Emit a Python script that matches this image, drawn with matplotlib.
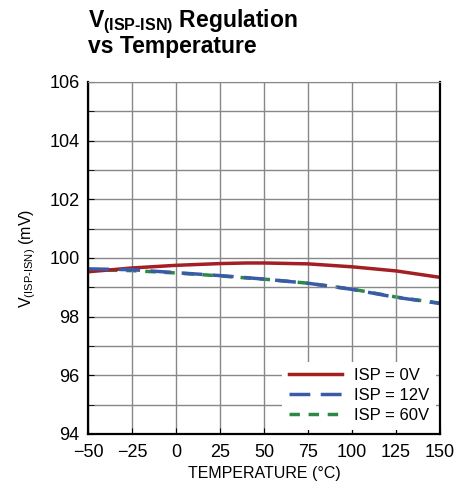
import matplotlib.pyplot as plt

temp = [-50, -25, 0, 25, 40, 50, 75, 100, 125, 150]
isp_0v = [99.53, 99.66, 99.75, 99.81, 99.83, 99.83, 99.8, 99.7, 99.56, 99.34]
isp_12v = [99.63, 99.6, 99.5, 99.4, 99.33, 99.28, 99.14, 98.93, 98.66, 98.45]
isp_60v = [99.6, 99.57, 99.49, 99.39, 99.32, 99.28, 99.14, 98.94, 98.67, 98.46]

xticks = [-50, -25, 0, 25, 50, 75, 100, 125, 150]
xticklabels = ['\u221250', '\u221225', '0', '25', '50', '75', '100', '125', '150']
yticks = [94, 96, 98, 100, 102, 104, 106]

plt.rcParams['font.family'] = ['Liberation Sans', 'DejaVu Sans']
plt.rcParams['mathtext.fontset'] = 'custom'
plt.rcParams['mathtext.rm'] = 'Liberation Sans'
plt.rcParams['mathtext.bf'] = 'Liberation Sans:bold'

fig = plt.figure(figsize=(4.67, 4.91), dpi=100)
ax = fig.add_axes([88/467, 1 - 434/491, 352/467, 352/491])

ax.plot(temp, isp_0v, color='#a31f24', lw=2.5, label='ISP = 0V')
ax.plot(temp, isp_12v, color='#3a5ba8', lw=2.5, dashes=(6, 3), label='ISP = 12V')
ax.plot(temp, isp_60v, color='#2a8a45', lw=2.5, dashes=(3, 2.5), label='ISP = 60V', zorder=1)

ax.set_xlim(-50, 150)
ax.set_ylim(94, 106)
ax.set_xticks(xticks)
ax.set_xticklabels(xticklabels)
ax.set_yticks(yticks)
ax.set_yticks(range(94, 107), minor=True)
ax.grid(True, which='both', color='#888888', lw=1)
ax.tick_params(direction='in', labelsize=13, length=4, which='both')
ax.tick_params(axis='x', pad=7)
ax.tick_params(axis='y', pad=6)
for s in ['left', 'bottom', 'right']:
    ax.spines[s].set_linewidth(1.6)
ax.spines['top'].set_color('#888888')

ax.set_xlabel('TEMPERATURE (\u00b0C)', fontsize=11.5, labelpad=4)
ax.set_ylabel('$\\mathrm{V}_{\\mathrm{(ISP\u2010ISN)}}$ (mV)', fontsize=11.5, labelpad=8)

leg = ax.legend(loc='lower right', frameon=True, fontsize=12, handlelength=3.2,
                borderaxespad=0.25, labelspacing=0.3, handletextpad=0.7)
leg.get_frame().set_edgecolor('none')
leg.get_frame().set_facecolor('white')
leg.get_frame().set_alpha(1)

fig.text(88/467, 1 - 8/491, '$\\mathbf{V}_{\\mathbf{(ISP\u2010ISN)}}$ Regulation\nvs Temperature',
         fontsize=16.5, fontweight='bold', va='top', ha='left', linespacing=0.92)

fig.savefig('out.png', dpi=100)
